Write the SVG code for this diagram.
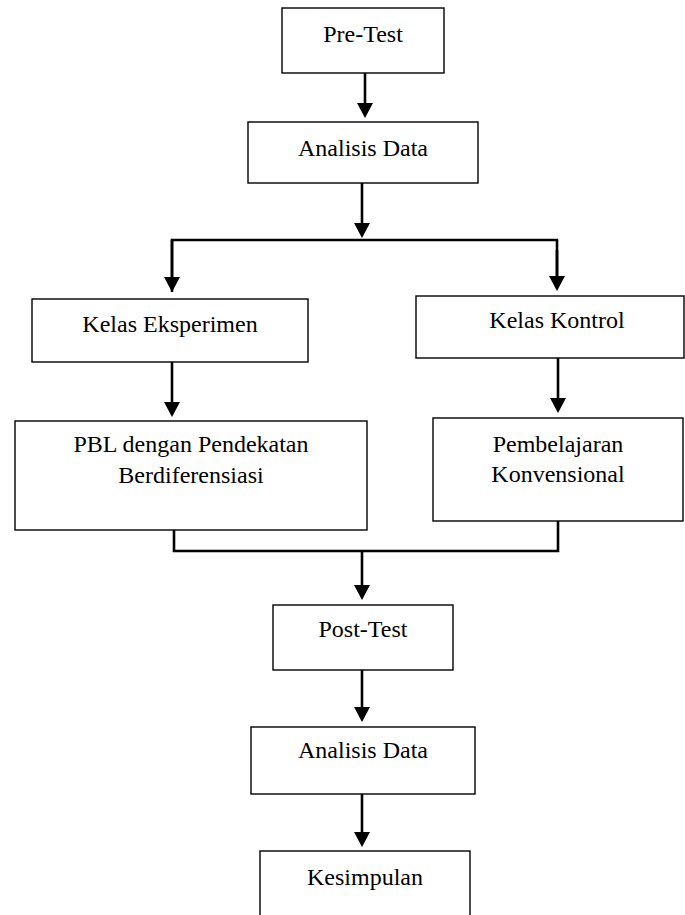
<svg xmlns="http://www.w3.org/2000/svg" width="685" height="915" viewBox="0 0 685 915">
<style>
.box{fill:#fff;stroke:#000;stroke-width:1.4}
.lbl{font-family:"Liberation Serif","Times New Roman",serif;font-size:24px;fill:#000;text-anchor:middle}
.con{fill:none;stroke:#000;stroke-width:2.6}
.con-a{fill:none;stroke:#000;stroke-width:2.6;marker-end:url(#ah)}
</style>
<defs>
<marker id="ah" markerUnits="userSpaceOnUse" viewBox="0 -8 15 16" refX="0" refY="0" markerWidth="15" markerHeight="16" orient="auto">
<path d="M0,-8 L15,0 L0,8 z" fill="#000"/>
</marker>
</defs>
<rect width="685" height="915" fill="#fff"/>
<g id="connectors">
<path class="con-a" d="M365,73 V103"/>
<path class="con-a" d="M362,183 V223"/>
<path class="con" d="M172,292 V240 H557 V276"/>
<path class="con-a" d="M172,240 V277"/>
<path class="con-a" d="M557,250 V276"/>
<path class="con-a" d="M172,362 V402"/>
<path class="con-a" d="M558,358 V398"/>
<path class="con" d="M174,530 V551 H558 V521"/>
<path class="con-a" d="M362,551 V585"/>
<path class="con-a" d="M362,670 V707"/>
<path class="con-a" d="M362,794 V832"/>
</g>
<g id="pretest"><rect class="box" x="282" y="8" width="162" height="65"/><text class="lbl" x="363" y="42">Pre-Test</text></g>
<g id="analisis1"><rect class="box" x="248" y="122" width="230" height="61"/><text class="lbl" x="363" y="156">Analisis Data</text></g>
<g id="eksperimen"><rect class="box" x="32" y="299" width="276" height="63"/><text class="lbl" x="170" y="332">Kelas Eksperimen</text></g>
<g id="kontrol"><rect class="box" x="416" y="296" width="268" height="62"/><text class="lbl" x="557" y="328">Kelas Kontrol</text></g>
<g id="pbl"><rect class="box" x="15" y="421" width="352" height="109"/><text class="lbl" x="191" y="452">PBL dengan Pendekatan</text><text class="lbl" x="191" y="483">Berdiferensiasi</text></g>
<g id="konvensional"><rect class="box" x="433" y="418" width="250" height="103"/><text class="lbl" x="558" y="452">Pembelajaran</text><text class="lbl" x="558" y="482">Konvensional</text></g>
<g id="posttest"><rect class="box" x="273" y="605" width="180" height="65"/><text class="lbl" x="363" y="637">Post-Test</text></g>
<g id="analisis2"><rect class="box" x="251" y="727" width="224" height="67"/><text class="lbl" x="363" y="758">Analisis Data</text></g>
<g id="kesimpulan"><rect class="box" x="260" y="851" width="210" height="90"/><text class="lbl" x="365" y="885">Kesimpulan</text></g>
</svg>
